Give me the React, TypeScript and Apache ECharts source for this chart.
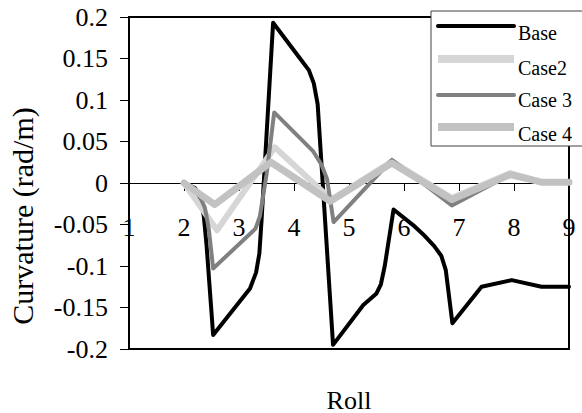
import React, { useEffect, useRef } from "react";
import * as echarts from "echarts";

const seriesNames = ["Base", "Case2", "Case 3", "Case 4"];

const baseData: [number, number][] = [
  [2, 0], [2.2, -0.006], [2.3, -0.02], [2.36, -0.04], [2.41, -0.075], [2.53, -0.183],
  [3.2, -0.127], [3.31, -0.108], [3.37, -0.085], [3.41, -0.045], [3.62, 0.193],
  [4.11, 0.15], [4.27, 0.136], [4.36, 0.12], [4.43, 0.095], [4.71, -0.195],
  [5.26, -0.147], [5.5, -0.133], [5.58, -0.122], [5.65, -0.1], [5.81, -0.032],
  [6.17, -0.051], [6.35, -0.062], [6.55, -0.076], [6.68, -0.088], [6.76, -0.105],
  [6.88, -0.169], [7.41, -0.125], [7.96, -0.117], [8.5, -0.125], [9, -0.125],
];
const case2Data: [number, number][] = [
  [2, 0], [2.6, -0.057], [3.65, 0.043], [4.68, -0.02], [5.78, 0.026],
  [6.87, -0.018], [7.93, 0.012], [8.5, 0.001], [9, 0.001],
];
const case3Data: [number, number][] = [
  [2, 0], [2.25, -0.01], [2.38, -0.03], [2.45, -0.055], [2.53, -0.103],
  [3.3, -0.055], [3.38, -0.04], [3.44, -0.015], [3.5, 0.01], [3.64, 0.085],
  [4.35, 0.038], [4.5, 0.022], [4.6, 0.005], [4.72, -0.047], [5.78, 0.028],
  [6.87, -0.027], [7.93, 0.01], [8.5, 0.001], [9, 0.001],
];
const case4Data: [number, number][] = [
  [2, 0], [2.56, -0.026], [3.58, 0.025], [4.66, -0.022], [5.78, 0.024],
  [6.87, -0.02], [7.93, 0.01], [8.5, 0.001], [9, 0.001],
];

const yTickLabels = ["-0.2", "-0.15", "-0.1", "-0.05", "0", "0.05", "0.1", "0.15", "0.2"];
const xTickLabels = ["1", "2", "3", "4", "5", "6", "7", "8", "9"];
const yAxisTitle = "Curvature (rad/m)";
const xAxisTitle = "Roll";

const FONT = "'Liberation Serif', 'Times New Roman', serif";

export default function App() {
  const ref = useRef<HTMLDivElement>(null);
  useEffect(() => {
    if (!ref.current) return;
    const chart = echarts.init(ref.current, null, { renderer: "svg" });
    const colors = ["#000000", "#d6d6d6", "#808080", "#c2c2c2"];
    const widths = [4, 6, 4, 7];
    const datas = [baseData, case2Data, case3Data, case4Data];
    const legendY = [26, 59, 95, 127];
    const legendTextY = [33, 68, 100, 134];
    const legendWidths = [4, 8, 4, 8];

    const legendEls: any[] = [
      {
        type: "rect",
        shape: { x: 431, y: 11, width: 170, height: 135 },
        style: { fill: "#ffffff", stroke: "#404040", lineWidth: 1 },
        z: 100,
      },
    ];
    seriesNames.forEach((n, i) => {
      legendEls.push({
        type: "line",
        shape: { x1: 438, y1: legendY[i], x2: 514, y2: legendY[i] },
        style: {
          stroke: colors[i],
          lineWidth: legendWidths[i],
          lineCap: i === 0 || i === 2 ? "round" : "butt",
        },
        z: 101,
      });
      legendEls.push({
        type: "text",
        x: 518,
        y: legendTextY[i],
        style: {
          text: n,
          font: `20px ${FONT}`,
          fill: "#000",
          textAlign: "left",
          textVerticalAlign: "middle",
        },
        z: 101,
      });
    });

    chart.setOption({
      animation: false,
      grid: {
        left: 129,
        right: 13,
        top: 17,
        bottom: 64,
        show: true,
        borderColor: "#000",
        borderWidth: 2,
        backgroundColor: "transparent",
      },
      xAxis: {
        type: "value",
        min: 1,
        max: 9,
        interval: 1,
        position: "bottom",
        offset: -166,
        axisLine: { onZero: false, lineStyle: { color: "#000", width: 1 } },
        axisTick: { show: true, length: 8, lineStyle: { color: "#000", width: 1 } },
        splitLine: { show: false },
        axisLabel: {
          margin: 31,
          color: "#000",
          fontFamily: FONT,
          fontSize: 26,
          showMinLabel: true,
          showMaxLabel: true,
          formatter: (v: number) => xTickLabels[Math.round(v - 1)] ?? "",
        },
      },
      yAxis: {
        type: "value",
        min: -0.2,
        max: 0.2,
        interval: 0.05,
        axisLine: { show: true, onZero: false, lineStyle: { color: "#000", width: 2 } },
        axisTick: { show: true, length: 9, lineStyle: { color: "#000", width: 1 } },
        splitLine: { show: false },
        axisLabel: {
          margin: 21,
          color: "#000",
          fontFamily: FONT,
          fontSize: 26,
          padding: [6, 0, 0, 0],
          formatter: (v: number) => yTickLabels[Math.round((v + 0.2) / 0.05)] ?? "",
        },
      },
      series: seriesNames.map((n, i) => ({
        name: n,
        type: "line",
        data: datas[i],
        symbol: "none",
        smooth: false,
        lineStyle: { color: colors[i], width: widths[i], cap: "round", join: "round" },
        z: 2 + i,
      })),
      graphic: [
        {
          type: "text",
          x: 22,
          y: 216,
          rotation: Math.PI / 2,
          style: {
            text: yAxisTitle,
            font: `30px ${FONT}`,
            fill: "#000",
            textAlign: "center",
            textVerticalAlign: "middle",
          },
        },
        {
          type: "text",
          x: 349,
          y: 400,
          style: {
            text: xAxisTitle,
            font: `26px ${FONT}`,
            fill: "#000",
            textAlign: "center",
            textVerticalAlign: "middle",
          },
        },
        ...legendEls,
      ],
    });
    return () => chart.dispose();
  }, []);
  return (
    <div
      ref={ref}
      style={{ position: "fixed", left: 0, top: 0, width: 582, height: 413, background: "#fff" }}
    />
  );
}
